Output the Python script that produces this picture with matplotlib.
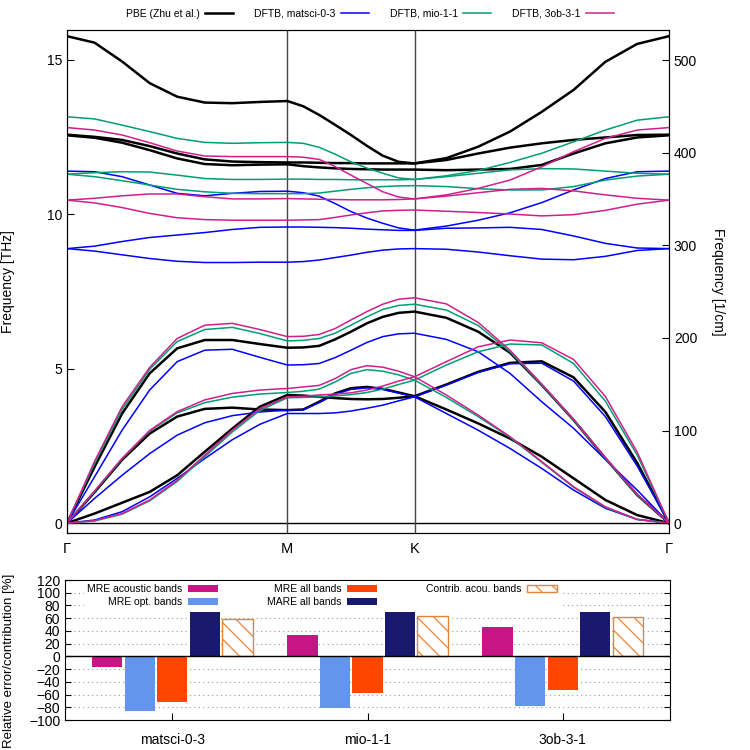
import numpy as np
import matplotlib
matplotlib.use("Agg")
import matplotlib.pyplot as plt

plt.rcParams["font.family"] = "Liberation Sans"
plt.rcParams["hatch.linewidth"] = 0.9

"k-path: Gamma-M, M-K, K-Gamma (hexagonal lattice lengths)"
seg_len = [0.5774, 0.3333, 0.6667]
path_labels = ["\u0393", "M", "K", "\u0393"]

"Band frequencies in THz, 9 points per segment (shared corners)"
pbe_bands = [
    [0, 1.82, 3.55, 4.85, 5.66, 5.93, 5.93, 5.80, 5.68, 5.69, 5.74, 5.95, 6.20, 6.47, 6.68, 6.81, 6.85, 6.65, 6.20, 5.52, 4.47, 3.34, 2.10, 0.91, 0],
    [0, 1.00, 2.05, 2.90, 3.45, 3.70, 3.74, 3.68, 3.66, 3.68, 3.93, 4.20, 4.37, 4.41, 4.35, 4.23, 4.11, 4.49, 4.90, 5.19, 5.24, 4.72, 3.60, 1.95, 0],
    [0, 0.31, 0.66, 1.01, 1.55, 2.31, 3.06, 3.77, 4.15, 4.13, 4.09, 4.05, 4.02, 4.01, 4.02, 4.06, 4.11, 3.68, 3.23, 2.74, 2.15, 1.45, 0.75, 0.26, 0],
    [15.77, 15.56, 14.95, 14.25, 13.81, 13.62, 13.60, 13.64, 13.67, 13.50, 13.22, 12.90, 12.57, 12.22, 11.90, 11.70, 11.65, 11.82, 12.19, 12.68, 13.32, 14.03, 14.94, 15.52, 15.77],
    [12.58, 12.51, 12.41, 12.21, 11.97, 11.78, 11.71, 11.69, 11.68, 11.68, 11.67, 11.66, 11.66, 11.65, 11.65, 11.65, 11.65, 11.76, 11.97, 12.16, 12.30, 12.41, 12.49, 12.57, 12.58],
    [12.56, 12.48, 12.32, 12.08, 11.81, 11.63, 11.59, 11.61, 11.62, 11.56, 11.52, 11.49, 11.47, 11.46, 11.45, 11.45, 11.45, 11.43, 11.45, 11.47, 11.60, 11.97, 12.30, 12.49, 12.56],
]
matsci_bands = [
    [0, 1.50, 3.01, 4.31, 5.23, 5.60, 5.63, 5.37, 5.12, 5.13, 5.17, 5.36, 5.60, 5.85, 6.04, 6.13, 6.15, 5.95, 5.55, 4.85, 3.93, 3.07, 2.06, 1.07, 0],
    [0, 0.80, 1.55, 2.25, 2.85, 3.25, 3.48, 3.60, 3.66, 3.67, 3.90, 4.17, 4.33, 4.38, 4.33, 4.21, 4.09, 4.47, 4.88, 5.16, 5.18, 4.60, 3.45, 1.85, 0],
    [0, 0.10, 0.37, 0.85, 1.45, 2.09, 2.70, 3.20, 3.55, 3.55, 3.55, 3.57, 3.63, 3.72, 3.82, 3.96, 4.09, 3.55, 3.01, 2.42, 1.77, 1.07, 0.48, 0.12, 0],
    [11.40, 11.38, 11.22, 10.95, 10.68, 10.60, 10.68, 10.74, 10.75, 10.70, 10.59, 10.35, 10.09, 9.88, 9.71, 9.56, 9.49, 9.62, 9.81, 10.05, 10.38, 10.79, 11.16, 11.38, 11.40],
    [8.89, 8.97, 9.12, 9.25, 9.33, 9.41, 9.51, 9.58, 9.59, 9.59, 9.58, 9.57, 9.55, 9.52, 9.50, 9.48, 9.48, 9.55, 9.56, 9.58, 9.51, 9.30, 9.06, 8.91, 8.89],
    [8.89, 8.81, 8.69, 8.57, 8.48, 8.44, 8.44, 8.45, 8.45, 8.47, 8.52, 8.60, 8.68, 8.77, 8.84, 8.88, 8.89, 8.87, 8.78, 8.66, 8.55, 8.53, 8.64, 8.83, 8.89],
]
mio_bands = [
    [0, 1.93, 3.68, 4.98, 5.88, 6.27, 6.34, 6.14, 5.90, 5.92, 5.98, 6.15, 6.41, 6.68, 6.92, 7.05, 7.09, 6.90, 6.40, 5.55, 4.47, 3.34, 2.10, 0.91, 0],
    [0, 1.02, 2.08, 2.98, 3.57, 3.90, 4.08, 4.18, 4.23, 4.27, 4.34, 4.57, 4.85, 4.97, 4.92, 4.80, 4.63, 5.12, 5.55, 5.80, 5.77, 5.17, 3.95, 2.20, 0],
    [0, 0.07, 0.29, 0.72, 1.35, 2.15, 2.95, 3.65, 4.06, 4.07, 4.09, 4.12, 4.16, 4.23, 4.34, 4.49, 4.63, 4.07, 3.45, 2.78, 1.97, 1.16, 0.51, 0.12, 0],
    [13.16, 13.09, 12.89, 12.68, 12.46, 12.33, 12.30, 12.32, 12.33, 12.30, 12.17, 11.95, 11.70, 11.50, 11.33, 11.18, 11.13, 11.25, 11.42, 11.68, 11.98, 12.35, 12.73, 13.05, 13.16],
    [11.30, 11.35, 11.38, 11.37, 11.27, 11.16, 11.13, 11.13, 11.14, 11.14, 11.13, 11.13, 11.12, 11.12, 11.12, 11.12, 11.13, 11.22, 11.33, 11.44, 11.48, 11.47, 11.40, 11.33, 11.30],
    [11.30, 11.22, 11.09, 10.95, 10.81, 10.73, 10.68, 10.67, 10.67, 10.67, 10.69, 10.75, 10.81, 10.86, 10.90, 10.92, 10.93, 10.90, 10.83, 10.79, 10.79, 10.90, 11.11, 11.24, 11.30],
]
ob3_bands = [
    [0, 2.00, 3.77, 5.04, 5.98, 6.41, 6.47, 6.27, 6.04, 6.05, 6.11, 6.30, 6.58, 6.85, 7.09, 7.25, 7.30, 7.10, 6.50, 5.60, 4.50, 3.36, 2.12, 0.93, 0],
    [0, 1.04, 2.10, 3.00, 3.61, 3.99, 4.20, 4.31, 4.36, 4.41, 4.46, 4.68, 4.97, 5.10, 5.05, 4.92, 4.74, 5.23, 5.71, 5.93, 5.84, 5.30, 4.10, 2.30, 0],
    [0, 0.08, 0.31, 0.75, 1.39, 2.20, 3.01, 3.71, 4.09, 4.11, 4.15, 4.18, 4.22, 4.31, 4.44, 4.60, 4.74, 4.15, 3.50, 2.80, 1.99, 1.18, 0.53, 0.12, 0],
    [12.81, 12.73, 12.57, 12.32, 12.05, 11.89, 11.87, 11.87, 11.87, 11.85, 11.78, 11.55, 11.27, 11.00, 10.73, 10.56, 10.50, 10.63, 10.84, 11.11, 11.54, 12.03, 12.46, 12.73, 12.81],
    [10.46, 10.52, 10.60, 10.66, 10.66, 10.57, 10.50, 10.50, 10.51, 10.50, 10.49, 10.48, 10.47, 10.47, 10.47, 10.48, 10.50, 10.59, 10.70, 10.81, 10.84, 10.76, 10.63, 10.52, 10.46],
    [10.46, 10.37, 10.22, 10.03, 9.89, 9.83, 9.81, 9.81, 9.81, 9.82, 9.83, 9.90, 9.98, 10.05, 10.11, 10.13, 10.14, 10.10, 10.06, 10.01, 9.95, 9.99, 10.13, 10.33, 10.46],
]

"Error statistics (bottom panel)"
param_sets = ["matsci-0-3", "mio-1-1", "3ob-3-1"]
mre_acoustic = [-17, 33, 45.5]
mre_optical = [-85.5, -81.5, -78]
mre_all = [-71, -57.5, -53.5]
mare_all = [70.5, 70.5, 70.5]
contrib_acoustic = [58, 63, 62.5]

THZ_TO_CM = 33.356

"k grid"
n = 9
kx = np.concatenate([
    np.linspace(0, seg_len[0], n),
    seg_len[0] + np.linspace(0, seg_len[1], n)[1:],
    seg_len[0] + seg_len[1] + np.linspace(0, seg_len[2], n)[1:],
])
k_nodes = [0, seg_len[0], seg_len[0] + seg_len[1], sum(seg_len)]

fig = plt.figure(figsize=(7.5, 7.5), dpi=100)
W, H = 750.0, 750.0

"Band structure panel"
ax = fig.add_axes([67 / W, 1 - 532.7 / H, 602 / W, (532.7 - 30) / H])
datasets = [
    (pbe_bands, "PBE (Zhu et al.)", "#000000", 1.8),
    (matsci_bands, "DFTB, matsci-0-3", "#0000ff", 1.1),
    (mio_bands, "DFTB, mio-1-1", "#009e73", 1.1),
    (ob3_bands, "DFTB, 3ob-3-1", "#cf1f8e", 1.1),
]
handles = []
for bands, label, col, lw in datasets:
    for i, b in enumerate(bands):
        ln, = ax.plot(kx, b, color=col, lw=lw, solid_joinstyle="round",
                      label=label if i == 0 else None)
    handles.append(ln)

ax.axhline(0, color="black", lw=1.0, zorder=0)
for kn in k_nodes[1:-1]:
    ax.axvline(kn, color="#444444", lw=1.0, zorder=0)
ax.set_xlim(0, sum(seg_len))
ax.set_ylim(-0.31, 15.97)
ax.set_xticks(k_nodes)
ax.set_xticklabels(path_labels, fontsize=10.5)
ax.tick_params(axis="x", length=0, pad=7)
ax.set_yticks([0, 5, 10, 15])
ax.tick_params(axis="y", direction="in", length=5, labelsize=10)
ax.set_ylabel("Frequency [THz]", fontsize=10)
ax.yaxis.set_label_coords(-0.086, 0.5)

axr = ax.twinx()
axr.set_ylim(-0.31 * THZ_TO_CM, 15.97 * THZ_TO_CM)
axr.set_yticks([0, 100, 200, 300, 400, 500])
axr.tick_params(axis="y", direction="in", length=5, labelsize=10)
axr.set_ylabel("Frequency [1/cm]", fontsize=10, rotation=-90)
axr.yaxis.set_label_coords(1.093, 0.5)

fig.legend(handles, [d[1] for d in datasets], ncol=4, loc="center",
           bbox_to_anchor=(370 / W, 1 - 14 / H), frameon=False, markerfirst=False,
           fontsize=7.5, handlelength=2.7, handletextpad=0.5, columnspacing=2.0)

"Error panel"
bx = fig.add_axes([65 / W, 1 - 720 / H, 605 / W, 140 / H])
xpos = np.arange(len(param_sets))
slot = 0.1667
bw = 0.155
bx.bar(xpos - 2 * slot, mre_acoustic, bw, color="#c71585", label="MRE acoustic bands", zorder=2)
bx.bar(xpos - slot, mre_optical, bw, color="#6495ed", label="MRE opt. bands", zorder=2)
bx.bar(xpos, mre_all, bw, color="#ff4500", label="MRE all bands", zorder=2)
bx.bar(xpos + slot, mare_all, bw, color="#191970", label="MARE all bands", zorder=2)
bx.bar(xpos + 2 * slot, contrib_acoustic, bw, color="white", edgecolor="#e8833a",
       hatch="\\\\", lw=1.0, label="Contrib. acou. bands", zorder=2)

bx.axhline(0, color="black", lw=1.0, zorder=3)
bx.set_xlim(-0.55, 2.55)
bx.set_ylim(-100, 120)
bx.set_yticks(np.arange(-100, 121, 20))
bx.yaxis.grid(True, linestyle=(0, (1, 3)), color="#999999", lw=0.8)
bx.set_axisbelow(True)
bx.tick_params(axis="y", direction="in", length=4, labelsize=10, right=True)
bx.set_xticks(xpos)
bx.set_xticklabels(param_sets, fontsize=10)
bx.tick_params(axis="x", direction="in", length=5, pad=9)
bx.set_ylabel("Relative error/contribution [%]", fontsize=9.5)
bx.yaxis.set_label_coords(-0.083, 0.42)

leg = bx.legend(ncol=3, loc="upper left", bbox_to_anchor=(0.03, 1.0), markerfirst=False,
                fontsize=7.5, handlelength=2.9, handleheight=0.65, handletextpad=0.5,
                columnspacing=4.7, labelspacing=0.3, borderpad=0.3, borderaxespad=0.1,
                frameon=True, fancybox=False)
leg.get_frame().set_edgecolor("none")
leg.get_frame().set_facecolor("white")
leg.get_frame().set_alpha(1.0)

plt.savefig("out.png", dpi=100)
